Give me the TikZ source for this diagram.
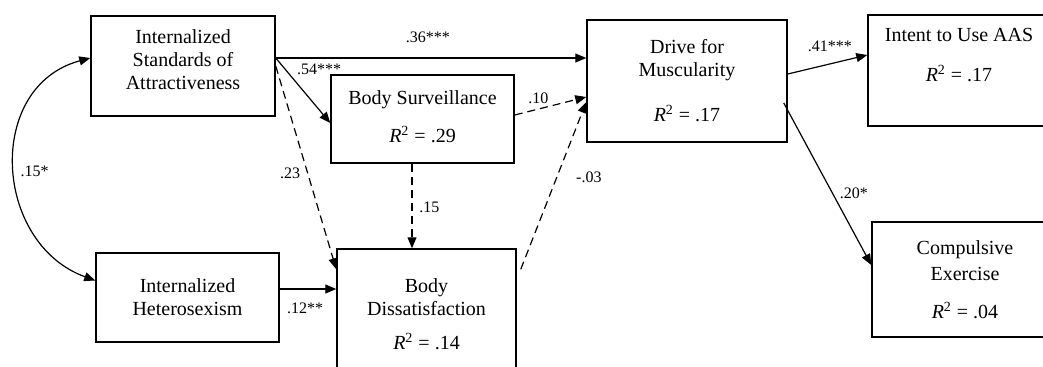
\documentclass[tikz,border=0pt]{standalone}
\usepackage{fontspec}
\setmainfont{Liberation Serif}
\usepackage{tikz}
\usetikzlibrary{arrows.meta, positioning}
\newcommand{\Rsq}[1]{\textit{R}\textsuperscript{2} = #1}
\tikzset{
    varbox/.style={draw, line width=0.75pt, align=center, inner sep=0pt, font=\fontsize{10pt}{11.5pt}\selectfont},
    coef/.style={inner sep=0.5mm, text depth=0, font=\fontsize{8pt}{9pt}\selectfont},
    link/.style={line width=0.6pt, ->},
    weaklink/.style={link, dash pattern=on 4pt off 2.5pt}
}
\begin{document}
\begin{tikzpicture}[x=0.5pt, y=-0.5pt, >={Stealth[length=5.5pt,width=4.5pt,inset=0pt]}]
        \path[use as bounding box, clip] (0,0) rectangle (1043,366);
        \node[varbox, minimum width=92pt, minimum height=50pt] (isa) at (183,66) {Internalized\\Standards of\\Attractiveness\\[-5.5pt]\mbox{}};
        \node[varbox, minimum width=91.5pt, minimum height=44pt] (bs) at (422.5,119) {\mbox{}\\[-6.5pt]Body Surveillance\\[7.5pt]\Rsq{.29}};
        \node[varbox, minimum width=100pt, minimum height=61pt] (dfm) at (687,81) {Drive for\\Muscularity\\[11pt]\Rsq{.17}};
        \node[varbox, minimum width=91pt, minimum height=55.5pt] (aas) at (959,70.5) {Intent to Use AAS\\[8.5pt]\Rsq{.17}\\[4pt]\mbox{}};
        \node[varbox, minimum width=91.5pt, minimum height=44.5pt] (ih) at (187.5,297.5) {Internalized\\Heterosexism};
        \node[varbox, minimum width=89.5pt, minimum height=65pt] (bd) at (426.5,314) {Body\\Dissatisfaction\\[5.5pt]\Rsq{.14}};
        \node[varbox, minimum width=93pt, minimum height=57.5pt] (ce) at (965,279.5) {Compulsive\\[1.5pt]Exercise\\[7.5pt]\Rsq{.04}};

        \draw[link] ([yshift=4pt]isa.east) -- ([yshift=4pt]isa.east -| dfm.west) node[coef, pos=0.49, above=6pt] {.36***};
        \draw[link] ([yshift=4pt]isa.east) -- ([yshift=-2pt]bs.west) node[coef, pos=0.18, right=4pt] {.54***};
        \draw[weaklink] (isa.east) -- ([yshift=-10.5pt]bd.north west) node[coef, pos=0.525, left=2pt] {.23};
        \draw[link] ([yshift=4.25pt]ih.east) -- ([yshift=4.25pt]ih.east -| bd.west) node[coef, pos=0.45, below=5pt] {.12**};
        \draw[weaklink] ([xshift=-5.25pt]bs.south) -- ([xshift=-5.25pt]bs.south |- bd.north) node[coef, pos=0.52, right=2pt] {.15};

        \draw[weaklink] ([yshift=2pt]bs.east) -- ([yshift=-8pt]dfm.west) node[coef, pos=0.33, above=1pt] {.10};
        \draw[weaklink] ([shift={(2pt,-10.5pt)}]bd.north east) -- ([yshift=-10.5pt]dfm.west) node[coef, pos=0.55, right=8pt] {-.03};

        \draw[link] ([yshift=3.5pt]dfm.east) -- ([yshift=7.75pt]aas.west) node[coef, pos=0.53, above=4.5pt] {.41***};
        \draw[link] ([shift={(-2pt,-11pt)}]dfm.east) -- ([yshift=7.25pt]ce.west) node[coef, pos=0.556, right=2pt] {.20*};

        \draw[link, <->] ([yshift=4pt]isa.west) to[out=195, in=160, looseness=1.25] node[coef, pos=0.52, right=1pt] {.15*} ([yshift=8.5pt]ih.west);
\end{tikzpicture}
\end{document}
